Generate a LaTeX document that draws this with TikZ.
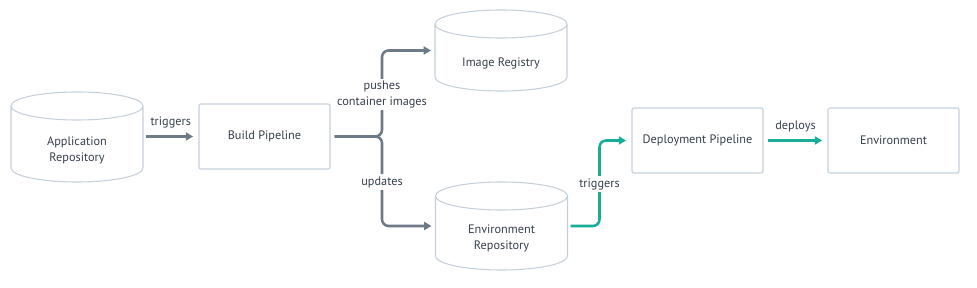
\documentclass[tikz,border=0pt]{standalone}
\usepackage{fontspec}
\setmainfont{PT Sans}
\usetikzlibrary{arrows.meta,calc}
\definecolor{edgegrey}{HTML}{6E7A87}
\definecolor{tealline}{HTML}{17AD98}
\definecolor{boxline}{HTML}{C5CFDA}
\definecolor{txtcol}{HTML}{353F4C}
\newcommand\drawcylinder[1]{%
  \draw[cylline] ($(#1.north west)+(0,-14)$) -- ($(#1.south west)+(0,14)$)
    arc[start angle=180,end angle=360,x radius=49.5pt,y radius=10.5pt]
    -- ($(#1.north east)+(0,-14)$)
    arc[start angle=0,end angle=360,x radius=49.5pt,y radius=10.5pt];}
\begin{document}
\begin{tikzpicture}[x=0.75pt,y=0.75pt,
  lbl/.style={text=txtcol, font=\fontsize{9.2}{12}\selectfont, align=center, inner sep=1.5pt},
  box/.style={draw=boxline, line width=0.8pt, rounded corners=1.5pt, minimum width=98.25pt, minimum height=48.75pt, lbl},
  cylnode/.style={minimum width=99pt, inner sep=0pt, outer sep=0pt},
  cylline/.style={draw=boxline, line width=0.8pt},
  greyarrow/.style={draw=edgegrey, line width=1.9pt, rounded corners=5pt, -{Triangle[length=5.5pt,width=6pt]}},
  tealarrow/.style={draw=tealline, line width=1.9pt, rounded corners=5pt, -{Triangle[length=5.5pt,width=6pt]}},
  edgelbl/.style={lbl, fill=white}]
\useasboundingbox (0,0) rectangle (977,-288);
% boxes
\node[box] (build) at (264.5,-136.5) {Build Pipeline};
\node[box] (deploy) at (697.5,-140.5) {Deployment Pipeline};
\node[box] (env) at (893.5,-140.5) {Environment};
% cylinders
\node[cylnode, minimum height=67.5pt] (apprepo) at (77,-137) {};
\node[cylnode, minimum height=60.75pt] (imgreg) at (501,-50.5) {};
\node[cylnode, minimum height=66pt] (envrepo) at (501.5,-226) {};
\drawcylinder{apprepo}
\drawcylinder{imgreg}
\drawcylinder{envrepo}
\node[lbl] (apptext) at (77,-150) {Application\\Repository};
\node[lbl] (imgtext) at (501,-63) {Image Registry};
\node[lbl] (envtext) at (501.5,-238.5) {Environment\\Repository};
% connectors
\coordinate (split) at (382,-136.5);
\coordinate (tsplit) at (599.5,-226);
\draw[greyarrow, shorten <=2.25pt, shorten >=4pt] (apprepo.east |- build.west) -- (build.west)
  node[lbl, midway, above=4pt] (trig1) {triggers};
\draw[greyarrow, shorten <=3pt, shorten >=3pt] (build.east) -| (split |- imgreg.west) -- (imgreg.west);
\draw[greyarrow, shorten <=3pt, shorten >=3pt] (build.east) -| (split |- envrepo.west) -- (envrepo.west);
\draw[tealarrow, shorten <=2.25pt, shorten >=4pt] (envrepo.east) -| (tsplit |- deploy.west) -- (deploy.west);
\draw[tealarrow, shorten <=3pt, shorten >=4pt] (deploy.east) -- (env.west)
  node[lbl, midway, above=4pt] (deploys) {deploys};
\node[edgelbl] (pushes) at (382,-94.5) {pushes\\container images};
\node[edgelbl] (updates) at (382,-182) {updates};
\node[edgelbl] (trig2) at (599.5,-184) {triggers};
\end{tikzpicture}
\end{document}
